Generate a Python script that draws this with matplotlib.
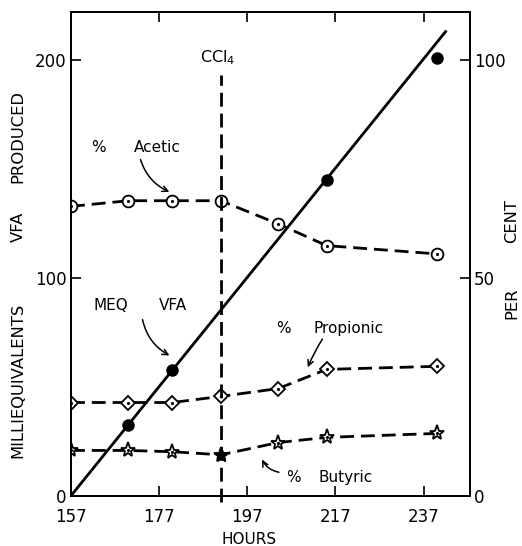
import numpy as np
import matplotlib.pyplot as plt

# data
hours = [157, 170, 180, 191, 204, 215, 240]
acetic = [66.4, 67.7, 67.7, 67.7, 62.4, 57.4, 55.5]
propionic = [21.4, 21.4, 21.4, 22.8, 24.6, 29.0, 29.7]
butyric = [10.4, 10.4, 10.1, 9.4, 12.2, 13.4, 14.3]

meq_hours = [170, 180, 215, 240]
meq_vfa = [32.6, 57.8, 145, 201]
fit_hours = [157, 242]
fit_meq = [0, 213]

ccl4_hour = 191
xticks = [157, 177, 197, 217, 237]

plt.rcParams['font.family'] = 'DejaVu Sans'
plt.rcParams['mathtext.default'] = 'regular'
fig = plt.figure(figsize=(5.22, 5.46), dpi=100)
ax = fig.add_axes([0.136, 0.092, 0.764, 0.886])
ax2 = ax.twinx()

dash = (0, (5, 2.5))

# percent curves on right axis
for vals, mk, filled in [(acetic, 'o', None), (propionic, 'D', None), (butyric, '*', 3)]:
    ax2.plot(hours, vals, color='black', linestyle=dash, linewidth=2, zorder=2)
    ms = 11 if mk == '*' else (8.5 if mk == 'o' else 7)
    ax2.plot(hours, vals, linestyle='none', marker=mk, markersize=ms,
             markerfacecolor='white', markeredgecolor='black', markeredgewidth=1.3, zorder=3)
    ax2.plot(hours, vals, linestyle='none', marker='.', markersize=2.5, color='black', zorder=4)
    if filled is not None:
        ax2.plot(hours[filled], vals[filled], linestyle='none', marker=mk, markersize=ms,
                 color='black', zorder=5)

# MEQ VFA on left axis
ax.plot(fit_hours, fit_meq, color='black', linewidth=2, zorder=3)
ax.plot(meq_hours, meq_vfa, 'o', color='black', markersize=8, zorder=4)
ax.plot([ccl4_hour, ccl4_hour], [-3, 193], color='black', linestyle=dash, linewidth=2, clip_on=False)
ax.text(190.2, 201, 'CCl$_4$', ha='center', va='center', fontsize=11.5)

ax.set_xlim(157, 247.5)
ax.set_ylim(0, 222)
ax2.set_ylim(0, 111)
ax.set_zorder(ax2.get_zorder() + 1)
ax.patch.set_visible(False)

ax.set_xticks(xticks)
ax.set_yticks([0, 100, 200])
ax2.set_yticks([0, 50, 100])
ax.tick_params(direction='in', length=7, width=1.2, labelsize=12, top=True, pad=3)
ax.tick_params(axis='x', pad=9)
ax2.tick_params(direction='in', length=7, width=1.2, labelsize=12, pad=3)
for a in (ax, ax2):
    for s in a.spines.values():
        s.set_linewidth(1.3)

# axis titles placed like the original (word groups spread out)
W, H = 522.0, 546.0
fig.text(249 / W, 1 - 539 / H, 'HOURS', ha='center', va='center', fontsize=11)
for word, yc in [('PRODUCED', 136.5), ('VFA', 226.5), ('MILLIEQUIVALENTS', 380)]:
    fig.text(18 / W, 1 - yc / H, word, ha='center', va='center', rotation=90, fontsize=11.8)
for word, yc in [('CENT', 221), ('PER', 303)]:
    fig.text(512 / W, 1 - yc / H, word, ha='center', va='center', rotation=90, fontsize=11.8)

# annotations
arrow = dict(arrowstyle='->', color='black', lw=1.1)
ax.annotate('', xy=(179.9, 139), xytext=(172.6, 155.5),
            arrowprops=dict(arrow, connectionstyle='arc3,rad=0.25'))
ax.text(161.5, 160, '%', fontsize=11, ha='left', va='center')
ax.text(171.3, 160, 'Acetic', fontsize=11, ha='left', va='center')

ax.annotate('', xy=(179.9, 63.8), xytext=(173.1, 82.1),
            arrowprops=dict(arrow, connectionstyle='arc3,rad=0.25'))
ax.text(162.2, 87.2, 'MEQ', fontsize=11, ha='left', va='center')
ax.text(177, 87.2, 'VFA', fontsize=11, ha='left', va='center')

ax2.annotate('', xy=(210.5, 28.9), xytext=(214.4, 36.5),
             arrowprops=dict(arrow, connectionstyle='arc3,rad=0.05'))
ax2.text(203.5, 38.3, '%', fontsize=11, ha='left', va='center')
ax2.text(212.1, 38.3, 'Propionic', fontsize=11, ha='left', va='center')

ax2.annotate('', xy=(200.1, 8.9), xytext=(204.8, 5.3),
             arrowprops=dict(arrow, connectionstyle='arc3,rad=-0.3'))
ax2.text(205.8, 4.1, '%', fontsize=11, ha='left', va='center')
ax2.text(213.2, 4.1, 'Butyric', fontsize=11, ha='left', va='center')

fig.savefig('out.png', dpi=100)
